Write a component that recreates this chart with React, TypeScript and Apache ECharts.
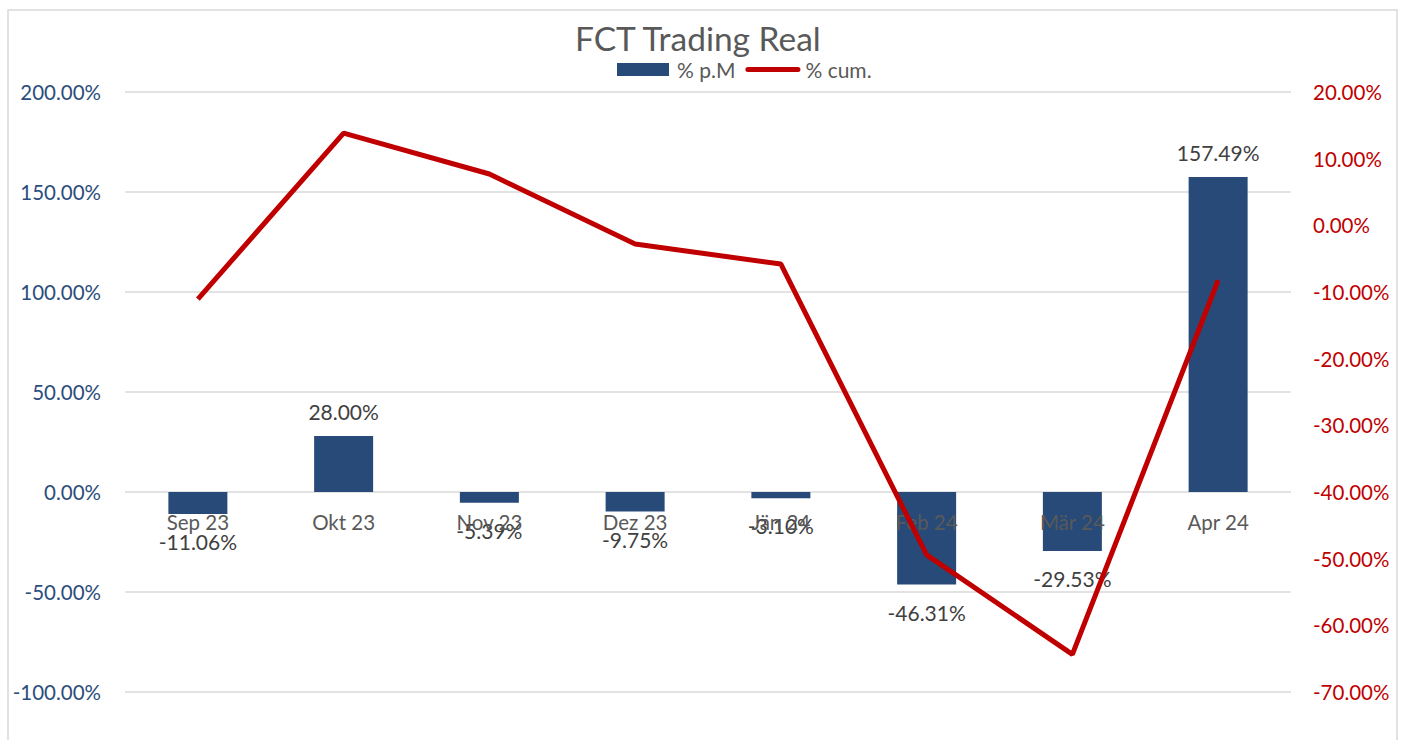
import React, { useEffect, useRef } from "react";
import * as echarts from "echarts";

const categories = ["Sep 23", "Okt 23", "Nov 23", "Dez 23", "Jän 24", "Feb 24", "Mär 24", "Apr 24"];
const pmValues = [-11.06, 28.0, -5.39, -9.75, -3.1, -46.31, -29.53, 157.49];
const cumValues = [-11.06, 13.84, 7.7, -2.8, -5.81, -49.43, -64.36, -8.24];
const titleText = "FCT Trading Real";
const seriesNames = ["% p.M", "% cum."];

const FONT = "Lato, 'Open Sans', sans-serif";

export default function App() {
  const ref = useRef<HTMLDivElement>(null);
  useEffect(() => {
    if (!ref.current) return;
    const chart = echarts.init(ref.current, undefined, { renderer: "svg" });
    chart.setOption({
      animation: false,
      backgroundColor: "#ffffff",
      textStyle: { fontFamily: FONT },
      title: {
        text: titleText,
        left: 570,
        top: 16,
        textStyle: { fontFamily: FONT, fontSize: 33.5, fontWeight: "normal", color: "#595959" },
      },
      legend: {
        left: 612,
        top: 54,
        itemWidth: 55,
        itemHeight: 13,
        itemGap: 10,
        textStyle: { fontFamily: FONT, fontSize: 21, color: "#595959" },
        data: [
          { name: seriesNames[0], icon: "path://M0,0 M55,13 M0,0 L52,0 L52,13 L0,13 Z", itemStyle: { color: "#274A78" } },
          {
            name: seriesNames[1],
            icon: "path://M0,0 M55,13 M2.5,4 L52.5,4 A2.5,2.5 0 0 1 52.5,9 L2.5,9 A2.5,2.5 0 0 1 2.5,4 Z",
            itemStyle: { color: "#C00000", borderWidth: 0 },
            lineStyle: { width: 0 },
          },
        ],
      },
      graphic: [
        {
          type: "rect",
          shape: { x: 8, y: 10, width: 1389, height: 760 },
          style: { fill: "none", stroke: "#d9d9d9", lineWidth: 1.5 },
          silent: true,
        },
      ],
      grid: { left: 125, right: 115, top: 92, height: 600, containLabel: false },
      xAxis: {
        type: "category",
        data: categories,
        z: 3,
        offset: -200,
        axisLine: { show: false, onZero: false },
        axisTick: { show: false },
        axisLabel: { interval: 0, margin: 19, fontFamily: FONT, fontSize: 20.5, color: "#595959" },
      },
      yAxis: [
        {
          type: "value",
          min: -100,
          max: 200,
          interval: 50,
          axisLine: { show: false },
          axisTick: { show: false },
          splitLine: { lineStyle: { color: "#d9d9d9", width: 1.5 } },
          axisLabel: {
            margin: 24,
            fontFamily: FONT,
            fontSize: 20.5,
            color: "#2B4D7C",
            formatter: (v: number) => v.toFixed(2) + "%",
          },
        },
        {
          type: "value",
          min: -70,
          max: 20,
          interval: 10,
          axisLine: { show: false },
          axisTick: { show: false },
          splitLine: { show: false },
          axisLabel: {
            margin: 22,
            fontFamily: FONT,
            fontSize: 20.5,
            color: "#C00000",
            formatter: (v: number) => v.toFixed(2) + "%",
          },
        },
      ],
      series: [
        {
          name: seriesNames[0],
          type: "bar",
          yAxisIndex: 0,
          barWidth: 59,
          z: 2,
          itemStyle: { color: "#274A78" },
          data: pmValues.map((v) => ({
            value: v,
            label: {
              show: true,
              position: v >= 0 ? "top" : "bottom",
              distance: v >= 0 ? 14 : 17,
              fontFamily: FONT,
              fontSize: 21,
              color: "#404040",
              formatter: () => v.toFixed(2) + "%",
            },
          })),
        },
        {
          name: seriesNames[1],
          type: "line",
          yAxisIndex: 1,
          z: 5,
          symbol: "none",
          lineStyle: { color: "#C00000", width: 5 },
          itemStyle: { color: "#C00000" },
          data: cumValues,
        },
      ],
    });
    return () => chart.dispose();
  }, []);
  return (
    <div
      ref={ref}
      style={{ position: "fixed", left: 0, top: 0, width: 1406, height: 740 }}
    />
  );
}
